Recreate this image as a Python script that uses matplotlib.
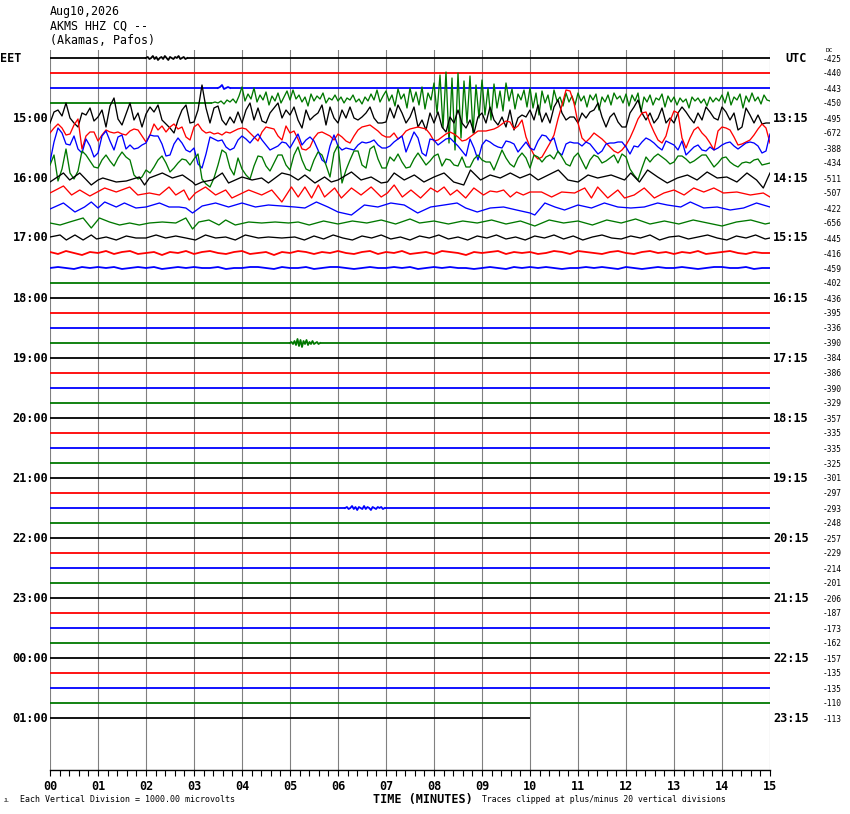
import numpy as np
import matplotlib.pyplot as plt

W, H = 850, 814
MONO = "DejaVu Sans Mono"

title_lines = ["Aug10,2026", "AKMS HHZ CQ --", "(Akamas, Pafos)"]
n_rows = 45
last_row_end = 10.0
eet_hours = ["15:00", "16:00", "17:00", "18:00", "19:00", "20:00",
             "21:00", "22:00", "23:00", "00:00", "01:00"]
utc_hours = ["13:15", "14:15", "15:15", "16:15", "17:15", "18:15",
             "19:15", "20:15", "21:15", "22:15", "23:15"]
dc_offsets = [-425, -440, -443, -450, -495, -672, -388, -434, -511, -507,
              -422, -656, -445, -416, -459, -402, -436, -395, -336, -390,
              -384, -386, -390, -329, -357, -335, -335, -325, -301, -297,
              -293, -248, -257, -229, -214, -201, -206, -187, -173, -162,
              -157, -135, -135, -110, -113]

# trace amplitudes (counts up from each row's zero line)
# evenly sampled traces
burst_1400 = [0, 1, -1, 0, 2, -1, 1, -2, 0, 1, -1, 2, 0, -2, 1, 0, -1, 1,
              0, 2, -1, 0, 1, -1, 0]
burst_1430 = [0, 1, 3, -1, 0, 1, 0]
green_1445 = [0, 1, 0, 2, -1, 3, 1, 4, 0, 7,
              16, 2, 9, 4, 15, 1, 8, 3, 11, -2, 7, 2, 10, 0, 6, 12,
              3, 13, 4, 8, 1, 6, -3, 9, 2, 7, 4, 10, 0, 5, 3, 8,
              2, 6, 0, 5, 3, 8, 1, 4, -1, 6, 2, 9, 3, 13, 1, 7,
              12, 2, 8, -3, 14, 4, 9, -5, 15, 1, 11, -2, 16, -6, 10, 3,
              20, -10, 28, -25, 31, -40, 25, -47, 30, -35, 22, -20, 27, -30, 18, -15,
              23, -12, 15, -17, 19, -5, 12, -8, 20, 2, 14, -6, 9, 3, 13, -4,
              15, -5, 10, -12, 12, 0, 8, -7, 13, 2, 6, -3, 10, 1, 7, -2,
              10, 2, 7, -4, 8, 3, 9, -7, 6, 1, 8, -2, 10, 4, 7, 0,
              9, -3, 8, 2, 10, -9, 6, 1, 8, -2, 5, 3, 9, -4, 7, 1,
              6, -2, 5, 1, 4, -5, 6, 2, 5, 0, 4, -3, 6, 1, 5, 2,
              8, 0, 11, -2, 6, 3, 9, -5, 7, 1, 10, 2, 6, -1, 8, 3, 2]
black_1500 = [-5, 6, 8, 2, 15, 0, -5, -9, 5, 3, 10, -3,
              1, 8, -9, 12, 20, -1, -7, 4, 15, -2, 5, -9,
              4, 11, 6, 13, -2, -6, -10, -15, -2, 8, 13, -5,
              -4, 8, 33, 10, -5, 10, 12, -2, -7, 1, -5, 6,
              -5, 8, 15, -2, 10, -3, -5, 5, 10, 15, 0, 8,
              3, 11, -2, -10, 8, -2, 2, 5, 13, -7, 11, 0,
              -5, 8, 0, 11, 0, -2, 1, 5, 11, 0, -5, -5,
              -4, 10, 0, 13, 5, -5, 1, 11, -9, -2, -12, 5,
              -5, 6, -9, -14, 1, -5, 8, -5, -10, -2, -15, 1,
              5, -5, 11, -2, -7, 1, -9, 8, -12, 0, 3, 1,
              8, -2, 13, -4, 5, -5, 11, 18, 5, -2, 1, 1,
              -5, 5, 0, 6, 8, 15, 1, -9, 1, 5, -4, -9,
              -9, 5, 11, 18, 5, -2, 5, -5, 0, 10, -5, 0,
              -5, 5, 11, 6, 0, -5, 5, -2, 11, 6, 0, -2,
              11, 6, -2, 5, -12, -9, 10, 3, -5, 3, -6, -5, -5]
red_1515 = [0, 5, 9, 5, -2, -1, 8, 14, -16, -3, 1, 1,
            -8, -2, 3, 1, 0, 1, -1, -2, 2, 4, 3, -3,
            -9, -2, 9, 3, 7, 1, 6, 9, 4, 6, -4, -7,
            6, 9, 3, 0, 1, -1, 0, -2, 1, 0, 2, 4,
            5, 4, 0, -4, -8, 1, 6, 5, 4, -3, -7, 7,
            0, 2, -6, -16, -17, -14, -5, 0, 1, -1, -3, -7,
            -1, -4, -8, -10, -3, 3, 6, 7, 8, 5, 2, -2,
            -4, -4, 0, -6, -3, 2, 4, 5, 6, 5, 4, -1,
            -8, -7, -4, -1, 1, -1, -4, -8, -7, -4, -1, 2,
            2, 2, 3, 4, 6, 9, 12, 11, 4, 7, 13, -4,
            -14, -22, -26, -24, -17, -10, -2, 14, 28, 43, 42, 30,
            10, -5, -9, -5, 0, -3, -6, -10, -14, -18, -20, -17,
            -12, -5, 4, 14, 20, 21, 10, 1, -7, -10, -3, 12,
            22, 20, -5, -15, -5, 3, 6, 0, -4, -10, -17, 2,
            6, 5, 3, -4, -12, -11, -9, -7, -2, 4, 9, 5, -10]
blue_1530 = [-14, 6, 20, 15, 4, 3, 12, -1, -5, 9, 2, -9,
             -5, 12, 17, 7, -2, 11, 13, -1, 3, -1, 0, 3,
             5, 13, 12, 12, 4, -8, -7, 4, 10, 5, -2, -4,
             0, -16, -20, -6, 11, 9, 7, 8, 1, -2, 0, 8,
             12, 9, 5, 10, 14, 8, 3, -2, 0, 2, 6, 5,
             0, 7, 14, 3, 8, 11, 7, -2, -12, -15, 2, 13,
             2, -2, 0, -1, -2, 3, 6, 5, 6, 8, 3, 0,
             0, 2, 6, 9, 12, -4, 6, 16, 10, -5, -8, 9,
             8, 3, 6, 9, 10, 6, 2, -3, -8, 9, 0, -12,
             3, 8, 6, 3, 1, 0, 7, 6, 4, -4, 1, 6,
             0, -2, 7, 13, 12, 7, 10, -4, -7, 4, 6, 5,
             5, 2, 6, 4, -1, -6, -3, 4, 5, 5, 6, 6,
             1, -6, 2, 1, 6, 10, 8, 5, 1, -2, 7, 5,
             3, -2, 7, -7, -3, 1, 3, -2, -3, 1, -2, 0,
             3, 5, 6, 2, -1, 2, 5, 6, 5, 2, -5, -3, 14]
green_1545 = [-2, 8, -18, -6, 14, -10, -16, -8, 12, 8, 2, -4,
              -5, 3, 8, 2, -3, 5, 11, 6, 3, -12, -16, -14,
              -7, -10, -4, 3, 7, 0, -9, -5, 0, 4, 3, -2,
              4, 9, -16, -21, -24, -15, -2, 13, 10, -5, -12, 5,
              -6, -12, -16, -3, 7, 6, -3, -8, 0, 8, 8, -2,
              -7, 8, 16, 3, -6, -8, 3, 11, 8, -2, -14, 10,
              18, -20, -7, 3, 12, 12, -2, -5, 14, 17, 4, -5,
              -5, 6, 2, 9, 1, -5, -4, 4, 10, 4, -2, 2,
              7, 9, -3, 4, 3, -2, -3, 6, -4, -4, 4, 8,
              3, 1, 1, -7, 3, 13, 5, -1, -4, 5, 10, 5,
              -5, 8, 6, 1, 6, 8, 4, 12, 6, -1, -3, 6,
              10, 2, -6, 3, 8, 6, 0, 2, 5, 8, 0, 9,
              6, -6, -12, -17, -5, 6, 1, 6, 9, 6, 3, -1,
              1, 7, 7, 4, 0, 2, 5, 8, 8, 2, -4, 0,
              5, 6, 1, -2, -4, 0, 1, 0, 3, 4, -2, -1, 0]
red_1715 = [1, -1, 2, 0, -2, 1, 0, 2, -1, 1, 2, -1, 0, 1, -2, 1, 0, 2,
            -1, 1, 2, 0, -1, 1, 2, -1, 0, 1, -2, 1, 0, 2, 1, -1, 1, 0,
            2, 0, -1, 1, 2, -1, 1, 0, 2, -1, 0, 1, -1, 2, 1, 0, -2, 1,
            0, 1, 2, -1, 1, 0, 1, -1, 0, 2, 1, -1, 2, 1, 0, -1, 1, 2,
            0, -1, 1, 2, 0, 1, -1, 1, 0, 2, -1, 0, 1, 2, 0, -1, 1, 0, 0]
blue_1730 = [0, 1, 0, -1, 1, 0, 1, 0, 1, -1, 0, 1, 0, 1, -1, 0, 1, 0,
             1, 0, 0, 1, -1, 0, 0, 1, 1, 0, -1, 1, 0, 0, 1, -1, 0, 1,
             1, 0, -1, 0, 1, 0, 0, 1, 0, 1, -1, 0, 1, 0, 1, 0, 0, -1,
             0, 1, 0, -1, 1, 0, 1, 0, 1, 0, -1, 0, 0, 1, 0, 1, 0, -1,
             1, 0, -1, 0, 1, 0, 0, 1, 0, -1, 0, 1, 1, 0, 0, 1, -1, 0, 0]
burst_1845 = [0, 1, -1, 2, -2, 4, -3, 3, -4, 2, -1, 3, -2, 1, -1, 2, -1,
              0, 1, -1, 0]
burst_2130 = [0, 1, -1, 0, 2, -1, 1, -2, 1, 0, -1, 2, -1, 1, 0, -2, 1, 0,
              -1, 1, 0, 1, -1, 0]

# turning points (minute, amplitude) of the smoother rows
black_1600 = [(0, -4), (0.28, 5), (0.41, -2), (0.62, 5), (0.86, -7), (1.0, -2),
              (1.1, 0), (1.38, -4), (1.59, -3), (1.86, 1), (1.97, -7), (2.07, 0),
              (2.34, 5), (2.55, 0), (2.76, 3), (2.97, -4), (3.03, -7), (3.17, -4),
              (3.38, -2), (3.59, 5), (3.72, -5), (4.0, 1), (4.21, -2), (4.41, 0),
              (4.55, -5), (4.83, 5), (5.0, 3), (5.17, -2), (5.31, 3), (5.52, -5),
              (5.72, 1), (5.86, -4), (6.0, -2), (6.28, 6), (6.48, -2), (6.69, 1),
              (6.9, -5), (7.03, -4), (7.17, 5), (7.38, -2), (7.59, 3), (7.79, -4),
              (8.0, 1), (8.21, 5), (8.41, -4), (8.62, -7), (8.76, 8), (8.97, -2),
              (9.17, 3), (9.38, 0), (9.59, 5), (9.79, 0), (10.0, 4), (10.17, -2),
              (10.38, 3), (10.59, 8), (10.79, -2), (11.0, -4), (11.21, 3),
              (11.41, 0), (11.69, 3), (11.97, -2), (12.1, 5), (12.28, -4),
              (12.45, 8), (12.66, 1), (12.86, -5), (13.07, 0), (13.28, 3),
              (13.48, -2), (13.69, 6), (13.9, 0), (14.1, 1), (14.31, -4),
              (14.52, 5), (14.72, -2), (14.86, -10), (15.0, 5)]
red_1615 = [(0, 0), (0.28, 7), (0.45, -2), (0.62, 3), (0.83, -3), (1.14, 5),
            (1.38, 1), (1.66, 6), (1.83, -2), (2.07, 0), (2.28, -2), (2.48, 6),
            (2.62, -2), (2.79, 3), (2.9, -7), (3.03, 0), (3.24, 6), (3.45, -2),
            (3.66, 3), (3.79, -5), (4.14, 3), (4.41, -2), (4.62, 3), (4.83, -9),
            (5.03, 6), (5.17, -4), (5.31, 6), (5.45, -5), (5.59, 8), (5.72, -4),
            (5.93, 5), (6.07, -5), (6.28, 5), (6.48, -2), (6.69, 6), (6.9, -4),
            (7.03, 0), (7.17, 8), (7.34, -4), (7.52, 3), (7.72, -5), (7.93, 5),
            (8.07, 1), (8.21, 6), (8.34, -2), (8.48, 3), (8.66, -5), (8.83, 5),
            (9.03, -2), (9.17, 2), (9.31, 1), (9.45, 3), (9.59, -4), (9.72, 1),
            (9.86, -2), (10.0, 1), (10.24, 1), (10.45, -4), (10.66, 1),
            (10.93, 0), (11.14, 5), (11.28, -5), (11.41, 6), (11.62, -5),
            (11.83, 3), (11.97, -5), (12.17, -2), (12.38, 5), (12.59, -5),
            (12.79, 0), (13.0, 3), (13.21, -2), (13.41, 5), (13.62, 1),
            (13.83, 5), (14.03, 0), (14.31, 1), (14.59, -2), (14.86, 0),
            (15.0, -4)]
blue_1630 = [(0, -1), (0.28, 5), (0.52, -4), (0.72, 1), (0.86, 6), (1.0, 0),
             (1.14, 6), (1.38, 1), (1.55, 5), (1.79, 0), (2.0, 1), (2.28, 5),
             (2.48, 1), (2.69, 1), (2.83, 0), (2.97, -5), (3.17, 2), (3.45, 5),
             (3.72, 1), (4.0, 5), (4.28, 1), (4.55, 3), (4.83, 2), (5.1, 1),
             (5.31, 0), (5.55, 6), (5.79, 1), (6.0, -4), (6.28, -7), (6.55, 3),
             (6.83, 1), (7.1, 5), (7.38, 3), (7.66, -5), (7.93, 1), (8.21, 3),
             (8.48, 5), (8.66, 0), (8.9, -4), (9.17, 0), (9.45, 1), (9.72, -2),
             (10.0, -5), (10.1, -7), (10.31, 5), (10.52, 1), (10.72, -2),
             (11.0, 3), (11.28, 0), (11.55, 5), (11.83, 1), (12.1, 0),
             (12.38, 1), (12.66, 5), (12.86, 3), (13.14, 1), (13.34, 6),
             (13.62, 0), (13.9, 1), (14.17, -2), (14.45, 0), (14.72, 5),
             (15.0, 1)]
green_1645 = [(0, 0), (0.21, -2), (0.41, 1), (0.69, 5), (0.86, -5), (1.03, 5),
              (1.24, 1), (1.45, -2), (1.66, 0), (1.86, -2), (2.07, 0), (2.34, 1),
              (2.62, 0), (2.83, 5), (2.97, -6), (3.1, 1), (3.31, 3), (3.52, -2),
              (3.66, 3), (3.86, -2), (4.14, 1), (4.41, 0), (4.69, 1), (4.97, 0),
              (5.17, 1), (5.4, -2), (5.7, 2), (6.0, -1), (6.3, 2), (6.6, 0),
              (6.9, 3), (7.2, -1), (7.5, 4), (7.7, 0), (8.0, 2), (8.3, -1),
              (8.6, 2), (8.9, 0), (9.2, 3), (9.5, -1), (9.8, 2), (10.1, -3),
              (10.4, 3), (10.7, 0), (11.0, 2), (11.3, -2), (11.6, 3), (11.9, 0),
              (12.2, 4), (12.5, -1), (12.8, 2), (13.1, -1), (13.4, 3), (13.7, 0),
              (14.0, -3), (14.3, 1), (14.6, 3), (14.9, -1), (15.0, 0)]
black_1700 = [(0, 1), (0.21, 3), (0.34, -2), (0.52, 3), (0.69, -2), (0.86, 3),
              (0.97, -1), (1.17, 1), (1.38, -2), (1.59, 2), (1.79, 0), (2.0, 0),
              (2.21, 3), (2.41, 0), (2.62, 2), (2.83, 0), (3.03, -2), (3.24, 3),
              (3.45, 0), (3.66, 1), (3.86, -2), (4.07, 3), (4.34, 0), (4.55, 1),
              (4.83, 0), (5.1, 1), (5.3, -2), (5.5, 2), (5.7, -1), (5.9, 3),
              (6.1, 0), (6.3, -2), (6.5, 2), (6.7, 0), (6.9, 3), (7.1, -1),
              (7.3, 1), (7.5, -2), (7.7, 2), (7.9, 0), (8.1, 3), (8.3, -1),
              (8.5, 1), (8.7, -2), (8.9, 2), (9.1, 0), (9.3, 3), (9.5, -1),
              (9.7, 1), (9.9, -2), (10.1, 2), (10.3, 0), (10.5, 3), (10.7, -1),
              (10.9, 2), (11.1, -2), (11.3, 1), (11.5, 3), (11.7, 0), (11.9, -1),
              (12.1, 2), (12.3, 0), (12.5, 3), (12.7, -2), (12.9, 1), (13.1, 2),
              (13.3, -1), (13.5, 1), (13.7, 3), (13.9, 0), (14.1, -2), (14.3, 2),
              (14.5, 0), (14.7, 3), (14.9, -1), (15.0, 0)]

# evenly sampled: (row, start minute, samples per minute, amplitudes)
even_traces = [
    (0, 2.0, 28, burst_1400),
    (2, 3.5, 24, burst_1430),
    (3, 3.375, 16, green_1445),
    (4, 0.0, 12, black_1500),
    (5, 0.0, 12, red_1515),
    (6, 0.0, 12, blue_1530),
    (7, 0.0, 12, green_1545),
    (13, 0.0, 6, red_1715),
    (14, 0.0, 6, blue_1730),
    (19, 5.0, 32, burst_1845),
    (30, 6.15, 28, burst_2130),
]
point_traces = [(8, black_1600), (9, red_1615), (10, blue_1630),
                (11, green_1645), (12, black_1700)]

colors = ["#000000", "#ff0000", "#0000ff", "#007800"]


def fx(x):
    return x / W


def fy(y):
    return 1 - y / H


fig = plt.figure(figsize=(W / 100, H / 100), dpi=100)
ax = fig.add_axes([fx(50), fy(770), 720 / W, 720 / H])
ax.set_xlim(0, 15)
# one row = 15 px, first row 8 px under the top of the grid
ax.set_ylim(47.4667, -0.5333)

for m in range(16):
    ax.axvline(m, color="#808080", lw=0.8, zorder=0)

curves = {}
for r, t0, rate, vals in even_traces:
    curves[r] = (t0 + np.arange(len(vals)) / rate, np.array(vals, float))
for r, pts in point_traces:
    tt, vv = zip(*pts)
    curves[r] = (np.array(tt, float), np.array(vv, float))

for r in range(n_rows):
    col = colors[r % 4]
    end = last_row_end if r == n_rows - 1 else 15.0
    if r not in curves:
        ax.plot([0, end], [r, r], color=col, lw=1.3, solid_capstyle="butt")
        continue
    t, v = curves[r]
    keep = t <= end + 1e-9
    t, v = t[keep], v[keep]
    lw = 0.95 if 3 <= r <= 12 else 1.3
    if t[0] > 0:
        ax.plot([0, t[0]], [r, r], color=col, lw=1.3, solid_capstyle="butt")
    ax.plot(t, r - v / 15.0, color=col, lw=lw)
    if t[-1] < end - 0.01:
        ax.plot([t[-1], end], [r, r], color=col, lw=1.3, solid_capstyle="butt")

ax.set_yticks([])
for s in ["top", "left", "right"]:
    ax.spines[s].set_visible(False)
ax.spines["bottom"].set_linewidth(1.0)
ax.set_xticks(np.arange(16))
ax.set_xticklabels([f"{m:02d}" for m in range(16)], family=MONO,
                   fontweight="bold", fontsize=8.5)
ax.set_xticks(np.arange(0, 15.01, 0.2), minor=True)
ax.tick_params(axis="x", which="both", direction="out", length=4.3,
               width=0.8, pad=3)

# header
for i, line in enumerate(title_lines):
    fig.text(fx(50), fy(12 + 14.5 * i), line, family=MONO, fontsize=8.4,
             va="center", ha="left")

fig.text(fx(0), fy(58), "EET", family=MONO, fontweight="bold", fontsize=8.5,
         va="center", ha="left")
fig.text(fx(785), fy(58), "UTC", family=MONO, fontweight="bold", fontsize=8.5,
         va="center", ha="left")
fig.text(fx(826), fy(51), "DC", family=MONO, fontsize=4.5, va="center",
         ha="left")

for k, (le, ri) in enumerate(zip(eet_hours, utc_hours)):
    y = 58 + 15 * 4 * (k + 1)
    fig.text(fx(48), fy(y), le, family=MONO, fontweight="bold", fontsize=8.6,
             va="center", ha="right")
    fig.text(fx(773), fy(y), ri, family=MONO, fontweight="bold",
             fontsize=8.6, va="center", ha="left")

for r, dc in enumerate(dc_offsets):
    fig.text(fx(823), fy(58 + 15 * r + 1), str(dc), family=MONO,
             fontsize=5.7, va="center", ha="left")

fig.text(fx(423), fy(799), "TIME (MINUTES)", family=MONO, fontweight="bold",
         fontsize=8.5, va="center", ha="center")
fig.text(fx(20), fy(800), "Each Vertical Division = 1000.00 microvolts",
         family=MONO, fontsize=6.0, va="center", ha="left")
fig.text(fx(482), fy(800),
         "Traces clipped at plus/minus 20 vertical divisions",
         family=MONO, fontsize=5.9, va="center", ha="left")
fig.text(fx(4), fy(801), "JL", family=MONO, fontsize=3.5, va="center",
         ha="left")

fig.savefig("out.png", dpi=100)
